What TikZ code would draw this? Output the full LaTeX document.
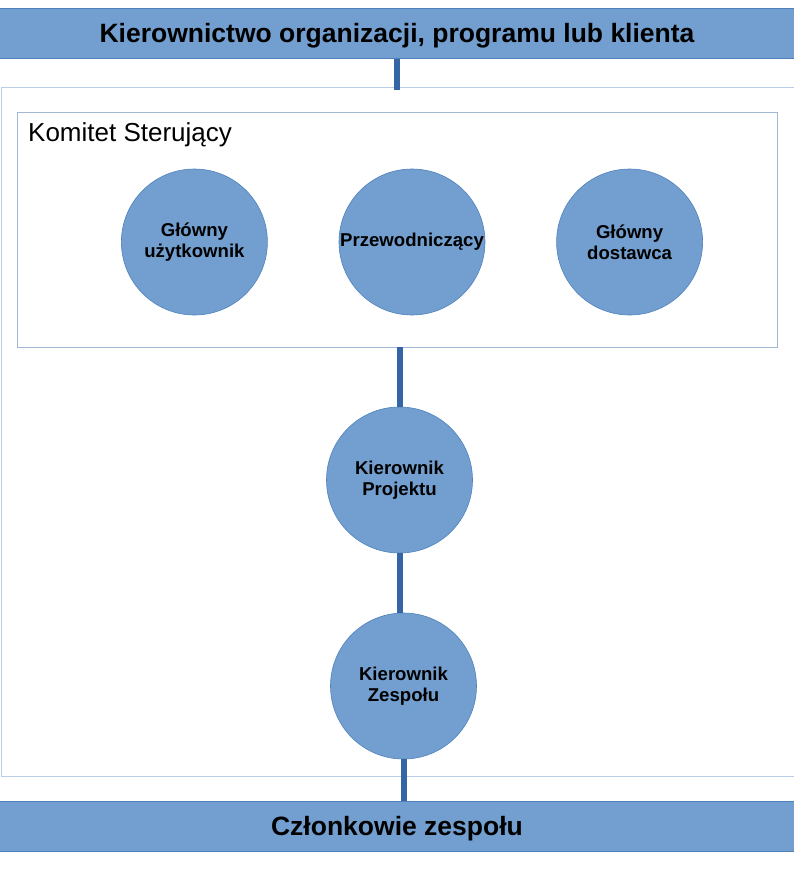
\documentclass[tikz,border=0pt]{standalone}
\usepackage{fontspec}
\setmainfont{Liberation Sans}
\usetikzlibrary{positioning}

\definecolor{barblue}{RGB}{114,159,207}
\definecolor{edgeblue}{RGB}{79,129,189}
\definecolor{linkblue}{RGB}{52,101,164}
\definecolor{framegray}{RGB}{185,205,228}
\definecolor{boxgray}{RGB}{160,184,214}

\begin{document}
\begin{tikzpicture}[x=1pt, y=-1pt,
    bar/.style={draw=edgeblue, line width=1pt, fill=barblue, minimum width=796pt, minimum height=50pt, inner sep=0pt, text depth=0pt, font=\fontsize{26.5}{30}\selectfont\bfseries},
    role/.style={circle, draw=edgeblue, line width=0.6pt, fill=barblue, minimum size=146pt, inner sep=0pt, align=center, font=\fontsize{18.6}{21}\selectfont\bfseries},
    link/.style={linkblue, line width=6pt}]

    \useasboundingbox (0,0) rectangle (794,892);

    % Top and bottom bars
    \node[bar] (kierownictwo) at (397,33) {Kierownictwo organizacji, programu lub klienta};
    \node[bar] (czlonkowie) at (397,826) {Członkowie zespołu};

    % Outer frame (open to the right)
    \node[draw=framegray, line width=1pt, minimum width=798pt, minimum height=689pt] (ramka) at (400,431.5) {};

    % Steering committee box
    \node[draw=boxgray, line width=0.8pt, minimum width=760pt, minimum height=235pt] (komitet) at (397,229.5) {};
    \node[anchor=base west, inner sep=0pt, font=\fontsize{26}{30}\selectfont] (komitetlabel) at (28,141) {Komitet Sterujący};

    % Committee members
    \node[role] (przew) at (412,242) {Przewodniczący};
    \node[role, left=71pt of przew] (uzytkownik) {Główny\\użytkownik};
    \node[role, right=71pt of przew] (dostawca) {Główny\\dostawca};

    % Project chain
    \node[role] (kp) at (399.5,480) {Kierownik\\Projektu};
    \node[role] (kz) at (403.5,686) {Kierownik\\Zespołu};

    % Connectors
    \draw[link] (kierownictwo.south) -- ([yshift=-3pt]kierownictwo.south |- ramka.north);
    \draw[link] (komitet.south -| kp) -- (kp.north);
    \draw[link] (kp.south) -- (kp.south |- kz.north);
    \draw[link] (kz.south) -- (kz.south |- czlonkowie.north);

\end{tikzpicture}
\end{document}
